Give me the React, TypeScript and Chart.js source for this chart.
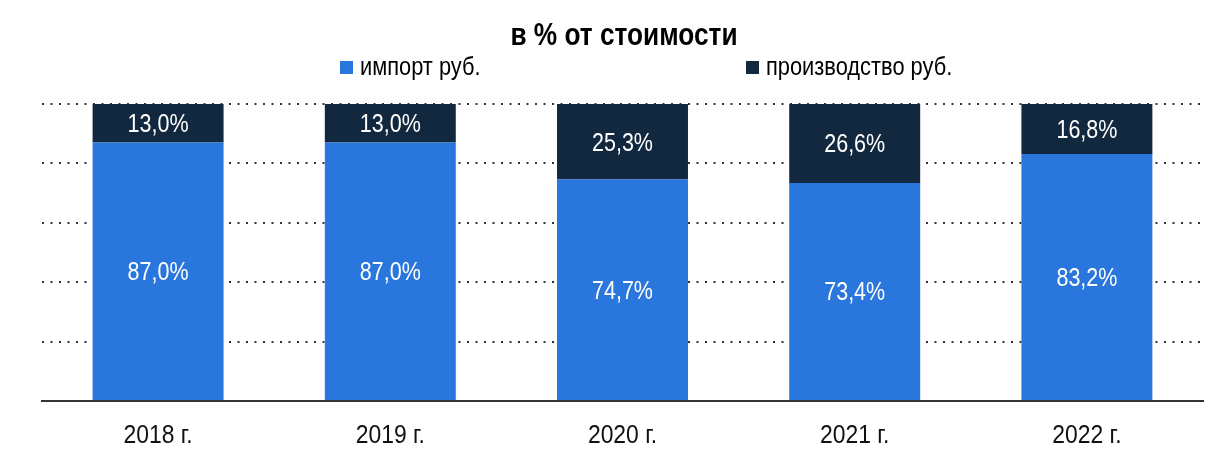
import React, { useEffect, useRef } from "react";
import { Chart, registerables } from "chart.js";

Chart.register(...registerables);

const categories = ["2018 г.", "2019 г.", "2020 г.", "2021 г.", "2022 г."];
const importShare = [87.0, 87.0, 74.7, 73.4, 83.2];
const productionShare = [13.0, 13.0, 25.3, 26.6, 16.8];
const seriesNames = ["импорт руб.", "производство руб."];
const seriesColors = ["#2976DC", "#12283F"];
const titleText = "в % от стоимости";
const yTicks = [0, 20, 40, 60, 80, 100];

const FONT = "'Liberation Sans', Arial, sans-serif";

const fmt = (v: number) => v.toFixed(1).replace(".", ",") + "%";

function narrowText(ctx: any, text: string, x: number, y: number, sx: number, align: string) {
  ctx.save();
  ctx.translate(x, y);
  ctx.scale(sx, 1);
  ctx.textAlign = align;
  ctx.textBaseline = "alphabetic";
  ctx.fillText(text, 0, 0);
  ctx.restore();
}

const decorPlugin = {
  id: "decor",
  afterDatasetsDraw(chart: any) {
    const ctx = chart.ctx;
    ctx.save();
    ctx.fillStyle = "#ffffff";
    const size = 25;
    ctx.font = `${size}px ${FONT}`;
    chart.data.datasets.forEach((ds: any, di: number) => {
      const meta = chart.getDatasetMeta(di);
      meta.data.forEach((el: any, i: number) => {
        const y = (el.y + el.base) / 2 + size * 0.716 / 2;
        narrowText(ctx, fmt(ds.data[i]), el.x, y, 0.86, "center");
      });
    });
    ctx.restore();
  },
  afterDraw(chart: any) {
    const ctx = chart.ctx;
    ctx.save();
    // x category labels
    const xs = chart.scales.x;
    ctx.fillStyle = "#111111";
    ctx.font = `26px ${FONT}`;
    categories.forEach((c, i) => {
      narrowText(ctx, c, xs.getPixelForValue(i), 443, 0.88, "center");
    });
    // title
    ctx.fillStyle = "#000000";
    ctx.font = `bold 32px ${FONT}`;
    narrowText(ctx, titleText, 624, 45, 0.82, "center");
    // legend
    const items = [
      { x: 340, label: seriesNames[0], color: seriesColors[0] },
      { x: 746, label: seriesNames[1], color: seriesColors[1] },
    ];
    ctx.font = `26px ${FONT}`;
    items.forEach((it) => {
      ctx.fillStyle = it.color;
      ctx.fillRect(it.x, 61, 13, 13);
      ctx.fillStyle = "#000000";
      narrowText(ctx, it.label, it.x + 20, 75, 0.84, "left");
    });
    ctx.restore();
  },
};

export default function App() {
  const ref = useRef<HTMLCanvasElement | null>(null);
  useEffect(() => {
    if (!ref.current) return;
    const chart = new Chart(ref.current, {
      type: "bar",
      data: {
        labels: categories,
        datasets: [
          {
            label: seriesNames[0],
            data: importShare,
            backgroundColor: seriesColors[0],
            categoryPercentage: 1,
            barPercentage: 0.564,
          },
          {
            label: seriesNames[1],
            data: productionShare,
            backgroundColor: seriesColors[1],
            categoryPercentage: 1,
            barPercentage: 0.564,
          },
        ],
      },
      options: {
        animation: false,
        responsive: false,
        maintainAspectRatio: false,
        layout: { padding: { left: 42, right: 26, top: 104, bottom: 64 } },
        plugins: {
          legend: { display: false },
          title: { display: false },
          tooltip: { enabled: false },
        },
        scales: {
          x: {
            stacked: true,
            grid: { display: false, drawTicks: false },
            border: { display: true, color: "#333333", width: 2 },
            ticks: { display: false },
          },
          y: {
            stacked: true,
            min: 0,
            max: 100,
            afterBuildTicks: (axis: any) => {
              axis.ticks = yTicks.map((v) => ({ value: v }));
            },
            ticks: { display: false },
            border: { display: false, dash: [2, 6.5] },
            grid: {
              color: "#333333",
              lineWidth: 2,
              drawTicks: false,
            },
          },
        },
      },
      plugins: [decorPlugin],
    });
    return () => chart.destroy();
  }, []);
  return (
    <div style={{ position: "absolute", left: 0, top: 0, width: 1229, height: 465, background: "#fff" }}>
      <canvas ref={ref} width={1229} height={465} style={{ width: 1229, height: 465 }} />
    </div>
  );
}
